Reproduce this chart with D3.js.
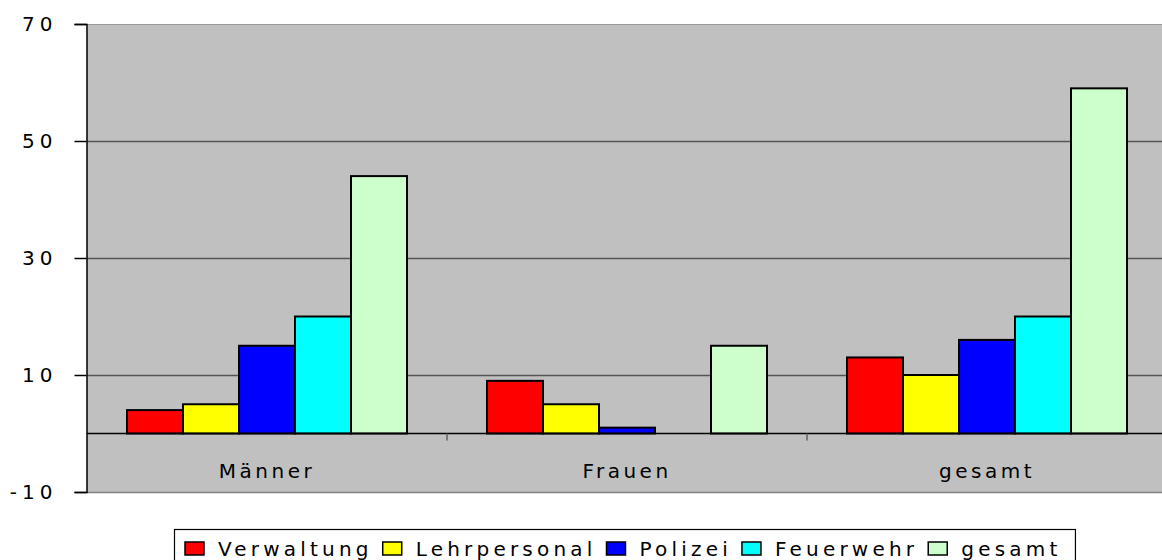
<!doctype html>
<html>
<head>
<meta charset="utf-8">
<style>
  body { margin: 0; background: #fff; }
  text { font-family: "DejaVu Sans", "Liberation Sans", sans-serif; fill: #000; }
</style>
<script src="https://d3js.org/d3.v7.min.js"></script>
</head>
<body>
<svg width="1162" height="560"></svg>
<script>
var categories = ["Männer", "Frauen", "gesamt"];
var series = ["Verwaltung", "Lehrpersonal", "Polizei", "Feuerwehr", "gesamt"];
var colors = ["#ff0000", "#ffff00", "#0000ff", "#00ffff", "#ccffcc"];
var values = [
  [4, 5, 15, 20, 44],
  [9, 5, 1, 0, 15],
  [13, 10, 16, 20, 59]
];
var yTicks = [-10, 10, 30, 50, 70];

var svg = d3.select("svg");
var pLeft = 87, pRight = 1167, pTop = 24, pBottom = 492;

var x = d3.scaleBand().domain(categories).range([pLeft, pRight]);
var xs = d3.scaleBand().domain(series).range([40, x.bandwidth() - 40]);
var y = d3.scaleLinear().domain([-10, 70]).range([pBottom, pTop]);

// plot area
svg.append("rect")
   .attr("x", pLeft).attr("y", pTop)
   .attr("width", pRight - pLeft).attr("height", pBottom - pTop)
   .attr("fill", "#c0c0c0");

svg.append("line")
   .attr("x1", pLeft).attr("x2", pRight).attr("y1", pTop + 0.5).attr("y2", pTop + 0.5)
   .attr("stroke", "#999");
svg.append("line")
   .attr("x1", pLeft).attr("x2", pRight).attr("y1", pBottom + 0.5).attr("y2", pBottom + 0.5)
   .attr("stroke", "#808080").attr("stroke-width", 1.5);

// gridlines
svg.selectAll(".grid")
   .data([10, 30, 50]).enter()
   .append("line")
   .attr("x1", pLeft).attr("x2", pRight)
   .attr("y1", function(d) { return Math.round(y(d)) + 0.5; })
   .attr("y2", function(d) { return Math.round(y(d)) + 0.5; })
   .attr("stroke", "#555").attr("stroke-width", 1.3);

// y axis
var yAxis = svg.append("g")
   .attr("transform", "translate(" + (pLeft - 0.5) + ",0)")
   .call(d3.axisLeft(y).tickValues(yTicks).tickSize(12).tickPadding(17)
         .tickFormat(function(d) { return String(d); }));
yAxis.select(".domain").attr("stroke", "#000").attr("stroke-width", 1.5);
yAxis.selectAll(".tick line").attr("stroke", "#000").attr("stroke-width", 1.5);
yAxis.selectAll(".tick text")
   .attr("font-size", "20px")
   .style("letter-spacing", "5px")
   .style("font-family", "DejaVu Sans, sans-serif")
   .attr("fill", "#000");

// bars
var groups = svg.selectAll(".grp")
   .data(categories).enter()
   .append("g")
   .attr("transform", function(d) { return "translate(" + x(d) + ",0)"; });

groups.selectAll("rect")
   .data(function(d, i) { return values[i].map(function(v, j) { return {s: series[j], v: v, c: colors[j]}; }); })
   .enter()
   .filter(function(d) { return d.v > 0; })
   .append("rect")
   .attr("x", function(d) { return xs(d.s); })
   .attr("y", function(d) { return y(d.v); })
   .attr("width", xs.bandwidth())
   .attr("height", function(d) { return y(0) - y(d.v); })
   .attr("fill", function(d) { return d.c; })
   .attr("stroke", "#000").attr("stroke-width", 2);

// zero axis
svg.append("line")
   .attr("x1", pLeft).attr("x2", pRight).attr("y1", y(0)).attr("y2", y(0))
   .attr("stroke", "#000").attr("stroke-width", 1.3);

svg.selectAll(".sep")
   .data(categories.slice(1)).enter()
   .append("line")
   .attr("x1", function(d) { return x(d); }).attr("x2", function(d) { return x(d); })
   .attr("y1", y(0)).attr("y2", y(0) + 7)
   .attr("stroke", "#555").attr("stroke-width", 1.3);

svg.selectAll(".cat")
   .data(categories).enter()
   .append("text")
   .attr("x", function(d) { return x(d) + x.bandwidth() / 2; })
   .attr("y", 478)
   .attr("text-anchor", "middle")
   .attr("font-size", "20px")
   .style("letter-spacing", "3.5px")
   .text(function(d) { return d; });

// legend
var legend = svg.append("g");
var lx = 185, lastEnd = 0;
var items = legend.selectAll(".item")
   .data(series).enter()
   .append("g");
items.append("rect")
   .attr("width", 19).attr("height", 13)
   .attr("y", 542)
   .attr("fill", function(d, i) { return colors[i]; })
   .attr("stroke", "#000").attr("stroke-width", 1.5);
items.append("text")
   .attr("x", 33).attr("y", 556)
   .attr("font-size", "20px")
   .style("letter-spacing", "4.2px")
   .text(function(d) { return d; });
items.each(function() {
  var g = d3.select(this);
  var len = g.select("text").node().getComputedTextLength();
  g.attr("transform", "translate(" + lx + ",0)");
  lastEnd = lx + 33 + len;
  lx = lastEnd + 10;
});
legend.insert("rect", ":first-child")
   .attr("x", 174.5).attr("y", 529.5)
   .attr("width", lastEnd + 14 - 174.5).attr("height", 40)
   .attr("fill", "#fff").attr("stroke", "#000").attr("stroke-width", 1.2);
</script>
</body>
</html>
